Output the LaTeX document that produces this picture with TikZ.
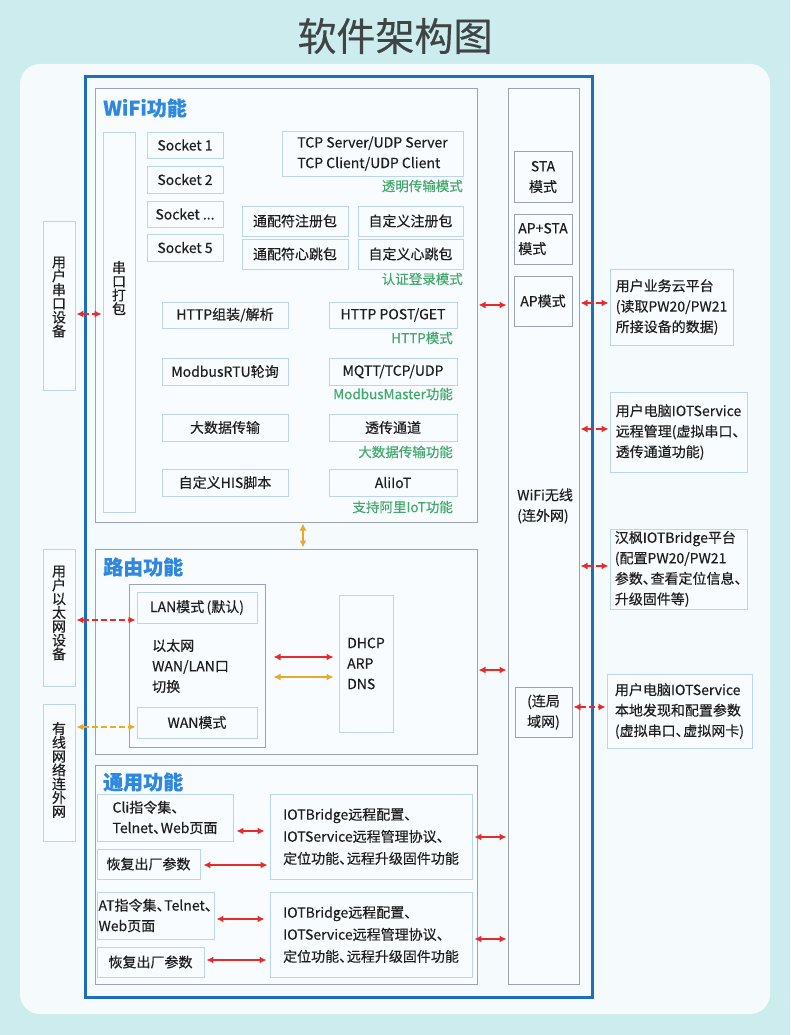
\documentclass[tikz,border=0pt]{standalone}
\usepackage{fontspec}
\setmainfont{Noto Sans CJK SC}[FakeBold=0.35]
\usetikzlibrary{arrows.meta}
\definecolor{bgc}{HTML}{CDECEE}
\definecolor{panelc}{HTML}{F5FBFC}
\definecolor{framec}{HTML}{1E6EBE}
\definecolor{sectc}{HTML}{9CA3AE}
\definecolor{boxc}{HTML}{B9D6EC}
\definecolor{boxfill}{HTML}{F8FCFE}
\definecolor{greenc}{HTML}{43A86C}
\definecolor{titleb}{HTML}{2E88E0}
\definecolor{redc}{HTML}{E52B2B}
\definecolor{orgc}{HTML}{E8AA2A}
\definecolor{txtc}{HTML}{1E1E1E}
\definecolor{titlec}{HTML}{3F4447}
\newcommand\dn{、\kern-0.45em}
\newcommand\bx[7]{\node[#2, minimum width={#5-#3}, minimum height={#6-#4}, inner sep=0pt] (#1) at ({(#3+#5)/2},{(#4+#6)/2}) {#7};}
\tikzset{
  base/.style={font=\fontsize{14}{20.5}\selectfont, text=txtc},
  sbox/.style={base, draw=boxc, fill=boxfill, line width=0.9pt},
  sect/.style={draw=sectc, fill=boxfill, line width=1pt},
  gbox/.style={base, draw=sectc, fill=boxfill, line width=1pt},
  glabel/.style={font=\fontsize{13.5}{16}\selectfont, text=greenc, anchor=east, inner sep=0pt},
  stitle/.style={font=\fontsize{20}{24}\selectfont\bfseries, text=titleb, anchor=west, inner sep=0pt},
  vtext/.style={base, font=\fontsize{14}{13.8}\selectfont, align=center, inner sep=0pt},
  plain/.style={base, inner sep=0pt},
  rarr/.style={draw=redc, line width=1.4pt, {Latex[length=7pt,width=7pt]}-{Latex[length=7pt,width=7pt]}},
  rdash/.style={rarr, dash pattern=on 6pt off 3pt},
  oarr/.style={draw=orgc, line width=1.4pt, {Latex[length=7pt,width=7pt]}-{Latex[length=7pt,width=7pt]}},
  odash/.style={oarr, dash pattern=on 6pt off 3pt},
}
\begin{document}
\begin{tikzpicture}[x=1pt,y=-1pt]
\fill[bgc] (0,0) rectangle (790,1035);
\useasboundingbox (0,0) rectangle (790,1035);
\fill[panelc, rounded corners=20pt] (20,64) rectangle (770,1014);
\node[font=\fontsize{39}{44}\selectfont, text=titlec] (title) at (395,36) {软件架构图};
\bx{frame}{draw=framec, line width=3pt}{85}{77}{592}{997}{}

% left devices
\bx{serialdev}{sbox}{43}{221}{75}{390}{}
\node[vtext] (serialdevt) at (59,297) {用\\户\\串\\口\\设\\备};
\bx{ethdev}{sbox}{43}{549}{75}{686}{}
\node[vtext] (ethdevt) at (59,613) {用\\户\\以\\太\\网\\设\\备};
\bx{wired}{sbox}{43}{704}{75}{841}{}
\node[vtext] (wiredt) at (59,770) {有\\线\\网\\络\\连\\外\\网};

% WiFi section
\bx{wifi}{sect}{95}{89}{477}{522}{}
\node[stitle] (wifititle) at (103,108) {WiFi功能};
\bx{ckdb}{sbox}{103}{132}{135}{512}{}
\node[vtext] (ckdbt) at (119,288) {串\\口\\打\\包};
\bx{s1}{sbox}{147}{132}{223}{158}{Socket 1}
\bx{s2}{sbox}{147}{166}{223}{193}{Socket 2}
\bx{s3}{sbox}{147}{201}{223}{227}{Socket ...}
\bx{s5}{sbox}{147}{234}{223}{261}{Socket 5}
\bx{tcp}{sbox, align=left}{282}{131}{463}{176}{TCP Server/UDP Server\\TCP Client/UDP Client}
\node[glabel] (gl1) at (463,186) {透明传输模式};
\bx{wcreg}{sbox}{242}{206}{348}{236}{通配符注册包}
\bx{cureg}{sbox}{358}{206}{463}{236}{自定义注册包}
\bx{wchb}{sbox}{242}{239}{348}{269}{通配符心跳包}
\bx{cuhb}{sbox}{358}{239}{463}{269}{自定义心跳包}
\node[glabel] (gl2) at (463,279) {认证登录模式};
\bx{httpa}{sbox}{162}{302}{288}{328}{HTTP组装/解析}
\bx{httpb}{sbox}{329}{302}{457}{328}{HTTP POST/GET}
\node[glabel] (gl3) at (453,338) {HTTP模式};
\bx{mba}{sbox}{162}{358}{288}{385}{ModbusRTU轮询}
\bx{mbb}{sbox}{329}{358}{457}{385}{MQTT/TCP/UDP}
\node[glabel] (gl4) at (453,394) {ModbusMaster功能};
\bx{bda}{sbox}{162}{414}{288}{441}{大数据传输}
\bx{bdb}{sbox}{329}{414}{457}{441}{透传通道}
\node[glabel] (gl5) at (453,452) {大数据传输功能};
\bx{hisa}{sbox}{162}{469}{288}{496}{自定义HIS脚本}
\bx{hisb}{sbox}{329}{469}{457}{496}{AliIoT}
\node[glabel] (gl6) at (453,507) {支持阿里IoT功能};

% right column
\bx{col}{gbox}{508}{89}{579}{984}{}
\bx{sta}{gbox, align=center}{514}{152}{572}{202}{STA\\模式}
\bx{apsta}{gbox, align=left}{514}{214}{572}{264}{AP+STA\\模式}
\bx{ap}{gbox}{514}{276}{572}{326}{AP模式}
\node[plain, anchor=west, align=left] (wifitxt) at (517,506) {WiFi无线\\(连外网)};
\bx{lanw}{gbox, align=center}{515}{687}{572}{737}{(连局\\域网)}

% right external boxes
\bx{cloud}{sbox, align=left}{610}{269}{733}{345}{用户业务云平台\\(读取PW20/PW21\\所接设备的数据)}
\bx{pcrem}{sbox, align=left}{610}{392}{747}{472}{用户电脑IOTService\\远程管理(虚拟串口\dn\\透传通道功能)}
\bx{bridge}{sbox, align=left, font=\fontsize{14}{20.5}\selectfont}{610}{529}{747}{609}{汉枫IOTBridge平台\\(配置PW20/PW21\\参数\dn 查看定位信息\dn\\升级固件等)}
\bx{pcloc}{sbox, align=left}{607}{674}{752}{748}{用户电脑IOTService\\本地发现和配置参数\\(虚拟串口\dn 虚拟网卡)}

% routing section
\bx{route}{sect}{95}{549}{477}{754}{}
\node[stitle] (routetitle) at (103,567) {路由功能};
\bx{ethsw}{gbox}{129}{584}{265}{747}{}
\bx{lanbox}{sbox}{137}{592}{257}{623}{LAN模式\,(默认)}
\node[plain, anchor=west, align=left] (ethtxt) at (152,666) {以太网\\WAN/LAN口\\切换};
\bx{wanbox}{sbox}{137}{707}{257}{738}{WAN模式}
\bx{dhcp}{sbox, align=left}{339}{595}{393}{732}{DHCP\\ARP\\DNS}

% general section
\bx{gen}{sect}{95}{765}{477}{984}{}
\node[stitle] (gentitle) at (103,782) {通用功能};
\bx{cli}{sbox, align=left}{97}{794}{233}{841}{Cli指令集\dn\\Telnet\dn Web页面}
\bx{rst1}{sbox}{97}{849}{200}{879}{恢复出厂参数}
\bx{big1}{sbox, align=left, font=\fontsize{14}{22}\selectfont}{270}{794}{472}{879}{IOTBridge远程配置\dn\\IOTService远程管理协议\dn\\定位功能\dn 远程升级固件功能}
\bx{atbox}{sbox, align=left}{97}{892}{214}{939}{AT指令集\dn Telnet\dn\\Web页面}
\bx{rst2}{sbox}{97}{947}{204}{977}{恢复出厂参数}
\bx{big2}{sbox, align=left, font=\fontsize{14}{22}\selectfont}{270}{892}{472}{977}{IOTBridge远程配置\dn\\IOTService远程管理协议\dn\\定位功能\dn 远程升级固件功能}

% arrows
\draw[rarr, shorten <=1pt, shorten >=1pt] (wifi.east |- 0,305) -- (col.west |- 0,305);
\draw[rarr, shorten <=1pt, shorten >=1pt] (route.east |- 0,670) -- (col.west |- 0,670);
\draw[rarr, shorten <=2pt, shorten >=1pt] (big1.east |- 0,837) -- (col.west |- 0,837);
\draw[rarr, shorten <=2pt, shorten >=1pt] (big2.east |- 0,939) -- (col.west |- 0,939);
\draw[rdash, shorten <=1pt, shorten >=1pt] (col.east |- 0,303) -- (cloud.west |- 0,303);
\draw[rdash, shorten <=1pt, shorten >=1pt] (col.east |- 0,429) -- (pcrem.west |- 0,429);
\draw[rdash, shorten <=1pt, shorten >=1pt] (col.east |- 0,566) -- (bridge.west |- 0,566);
\draw[rdash, shorten <=1pt, shorten >=1pt] (lanw.east |- 0,707) -- (pcloc.west |- 0,707);
\draw[rdash, shorten <=1pt, shorten >=1pt] (serialdev.east |- 0,314) -- (ckdb.west |- 0,314);
\draw[rdash, shorten <=1pt, shorten >=1pt] (ethdev.east |- 0,620) -- (lanbox.west |- 0,620);
\draw[odash, shorten <=1pt, shorten >=1pt] (wired.east |- 0,727) -- (wanbox.west |- 0,727);
\draw[oarr, shorten <=1pt, shorten >=1pt] (wifi.south -| 303,0) -- (route.north -| 303,0);
\draw[rarr, shorten <=8pt, shorten >=5pt] (ethsw.east |- 0,657) -- (dhcp.west |- 0,657);
\draw[oarr, shorten <=8pt, shorten >=5pt] (ethsw.east |- 0,677) -- (dhcp.west |- 0,677);
\draw[rarr, shorten <=3pt, shorten >=5pt] (cli.east |- 0,831) -- (big1.west |- 0,831);
\draw[rarr, shorten <=3pt, shorten >=2pt] (rst1.east |- 0,865) -- (big1.west |- 0,865);
\draw[rarr, shorten <=2pt, shorten >=5pt] (atbox.east |- 0,919) -- (big2.west |- 0,919);
\draw[rarr, shorten <=2pt, shorten >=3pt] (rst2.east |- 0,960) -- (big2.west |- 0,960);
\end{tikzpicture}
\end{document}
